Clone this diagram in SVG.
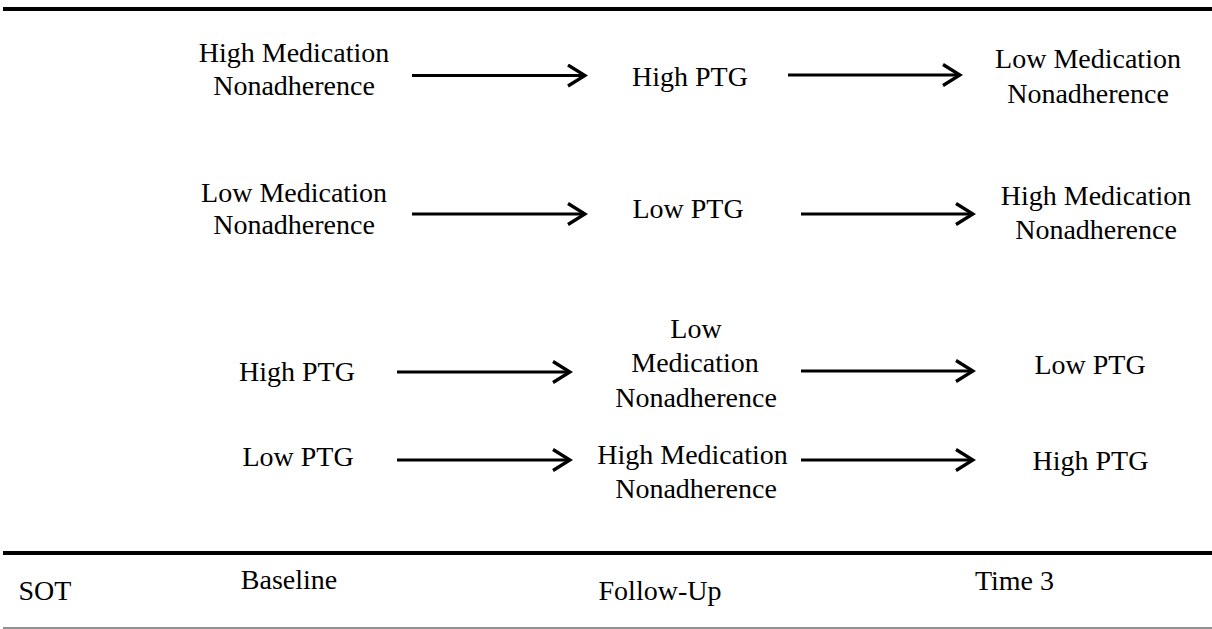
<svg xmlns="http://www.w3.org/2000/svg" width="1212" height="629" viewBox="0 0 1212 629" font-family="Liberation Serif, serif">
  <style>
    text { font-family: "Liberation Serif", serif; font-size: 28px; fill: #000; text-anchor: middle; }
    .conn { stroke: #000; stroke-width: 3; fill: none; marker-end: url(#ah); }
    .rule { stroke: #000; stroke-width: 4; }
    .thin { stroke: #6b6b6b; stroke-width: 1.5; }
  </style>
  <defs>
    <marker id="ah" markerUnits="userSpaceOnUse" viewBox="0 0 24 24" markerWidth="24" markerHeight="24" refX="21" refY="12" orient="auto">
      <path d="M4,1.5 L21,12 L4,22.5" fill="none" stroke="#000" stroke-width="3.3"/>
    </marker>
  </defs>
  <rect width="1212" height="629" fill="#fff"/>
  <g id="rules">
    <line class="rule" x1="3" y1="9" x2="1212" y2="9"/>
    <line class="rule" x1="3" y1="553" x2="1212" y2="553"/>
    <line class="thin" x1="3" y1="628" x2="1212" y2="628"/>
  </g>
  <g id="r1-baseline" font-family="Liberation Serif, serif"><text x="294" y="62">High Medication</text><text x="294" y="94.5">Nonadherence</text></g>
  <g id="r1-followup" font-family="Liberation Serif, serif"><text x="690" y="86">High PTG</text></g>
  <g id="r1-time3" font-family="Liberation Serif, serif"><text x="1088" y="68">Low Medication</text><text x="1088" y="102.5">Nonadherence</text></g>
  <g id="r2-baseline" font-family="Liberation Serif, serif"><text x="294" y="202">Low Medication</text><text x="294" y="234">Nonadherence</text></g>
  <g id="r2-followup" font-family="Liberation Serif, serif"><text x="688" y="217.5">Low PTG</text></g>
  <g id="r2-time3" font-family="Liberation Serif, serif"><text x="1096" y="205">High Medication</text><text x="1096" y="238.5">Nonadherence</text></g>
  <g id="r3-baseline" font-family="Liberation Serif, serif"><text x="297" y="381">High PTG</text></g>
  <g id="r3-followup" font-family="Liberation Serif, serif"><text x="696" y="338">Low</text><text x="695" y="372">Medication</text><text x="696" y="406.5">Nonadherence</text></g>
  <g id="r3-time3" font-family="Liberation Serif, serif"><text x="1090" y="374">Low PTG</text></g>
  <g id="r4-baseline" font-family="Liberation Serif, serif"><text x="298" y="466">Low PTG</text></g>
  <g id="r4-followup" font-family="Liberation Serif, serif"><text x="692.5" y="464">High Medication</text><text x="696" y="497.5">Nonadherence</text></g>
  <g id="r4-time3" font-family="Liberation Serif, serif"><text x="1090.5" y="469.5">High PTG</text></g>
  <g id="footer" font-family="Liberation Serif, serif">
    <text x="45" y="600">SOT</text>
    <text x="289" y="589">Baseline</text>
    <text x="660" y="600">Follow-Up</text>
    <text x="1014.5" y="590">Time 3</text>
  </g>
  <g id="connectors">
    <line class="conn" x1="412" y1="75.5" x2="585" y2="75.5"/>
    <line class="conn" x1="788" y1="75" x2="960" y2="75"/>
    <line class="conn" x1="412" y1="214" x2="585" y2="214"/>
    <line class="conn" x1="801" y1="214" x2="973" y2="214"/>
    <line class="conn" x1="397" y1="372" x2="570" y2="372"/>
    <line class="conn" x1="801" y1="371" x2="973" y2="371"/>
    <line class="conn" x1="397" y1="460" x2="570" y2="460"/>
    <line class="conn" x1="801" y1="460" x2="973" y2="460"/>
  </g>
</svg>
